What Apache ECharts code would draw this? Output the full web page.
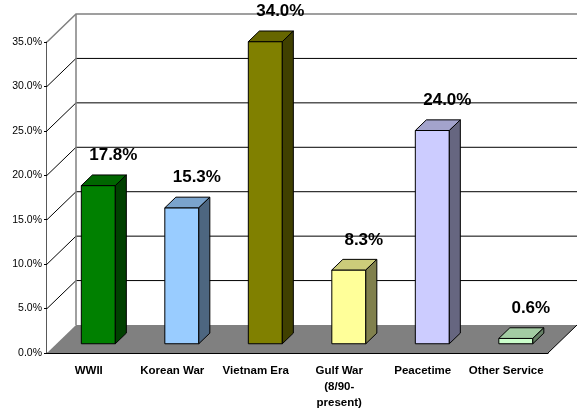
<!DOCTYPE html>
<html>
<head>
<meta charset="UTF-8">
<title>index.html</title>
<style type="text/css">
html, body { margin: 0; padding: 0; background: #fff; }
#main { width: 577px; height: 411px; }
</style>
<script type="text/javascript" src="https://cdn.jsdelivr.net/npm/echarts@6/dist/echarts.min.js"></script>
</head>
<body>
  <div id="main"></div>
<script>
  var categories = ['WWII', 'Korean War', 'Vietnam Era', 'Gulf War\n(8/90-\npresent)', 'Peacetime', 'Other Service'];
  var shares = [0.178, 0.153, 0.340, 0.083, 0.240, 0.006];
  var yTicks = [0, 0.05, 0.10, 0.15, 0.20, 0.25, 0.30, 0.35];

  // front / top / side colour of each bar
  var barColors = [
    ['#008000', '#006600', '#004000'],
    ['#99CCFF', '#7AA3CC', '#4D6680'],
    ['#808000', '#666600', '#404000'],
    ['#FFFF99', '#CCCC7A', '#80804D'],
    ['#CCCCFF', '#A3A3CC', '#666680'],
    ['#CCFFCC', '#A3CCA3', '#668066']
  ];

  // fake 3d depth, in pixels
  var DX = 29, DY = -28;
  var Z0 = 0.33, Z1 = 0.71;

  function renderFrame(params, api) {
    if (params.dataIndex !== 0) return;
    var cs = params.coordSys;
    var x0 = cs.x, x1 = cs.x + cs.width;
    var yb = api.coord([0, 0])[1];
    var yt = api.coord([0, yTicks[yTicks.length - 1]])[1];
    var kids = [];
    // back wall
    kids.push({ type: 'polygon', shape: { points: [[x0 + DX, yt + DY], [x1 + DX, yt + DY], [x1 + DX, yb + DY], [x0 + DX, yb + DY]] },
      style: { fill: '#fff', stroke: null } });
    // side wall
    kids.push({ type: 'polygon', shape: { points: [[x0, yt], [x0 + DX, yt + DY], [x0 + DX, yb + DY], [x0, yb]] },
      style: { fill: '#fff', stroke: null } });
    // grid lines on walls
    for (var i = 1; i < yTicks.length - 1; i++) {
      var y = api.coord([0, yTicks[i]])[1];
      kids.push({ type: 'line', shape: { x1: x0 + DX, y1: y + DY, x2: x1 + DX, y2: y + DY }, style: { stroke: '#000', lineWidth: 1 } });
      kids.push({ type: 'line', shape: { x1: x0, y1: y, x2: x0 + DX, y2: y + DY }, style: { stroke: '#000', lineWidth: 1 } });
    }
    // top edges and back-left edge
    kids.push({ type: 'polyline', shape: { points: [[x0, yt], [x0 + DX, yt + DY], [x1 + DX, yt + DY]] }, style: { stroke: '#808080', lineWidth: 1.5, fill: null } });
    kids.push({ type: 'line', shape: { x1: x0 + DX, y1: yt + DY, x2: x0 + DX, y2: yb + DY }, style: { stroke: '#808080', lineWidth: 1.5 } });
    // floor
    kids.push({ type: 'polygon', shape: { points: [[x0, yb], [x1, yb], [x1 + DX, yb + DY], [x0 + DX, yb + DY]] },
      style: { fill: '#808080', stroke: null } });
    kids.push({ type: 'line', shape: { x1: x1, y1: yb, x2: x1 + DX, y2: yb + DY }, style: { stroke: '#000', lineWidth: 1 } });
    return { type: 'group', children: kids };
  }

  function renderBar(params, api) {
    var idx = api.value(0);
    var v = api.value(1);
    var top = api.coord([idx, v]);
    var base = api.coord([idx, 0]);
    var w = api.size([1, 0])[0] * 0.407;
    var c = barColors[params.dataIndex];
    var l = top[0] - w / 2, r = top[0] + w / 2;
    var fx = Z0 * DX, fy = Z0 * DY, bx = Z1 * DX, by = Z1 * DY;
    var yT = top[1], yB = base[1];
    return {
      type: 'group',
      children: [
        { type: 'polygon', shape: { points: [[l + fx, yT + fy], [r + fx, yT + fy], [r + fx, yB + fy], [l + fx, yB + fy]] },
          style: { fill: c[0], stroke: '#000', lineWidth: 1 } },
        { type: 'polygon', shape: { points: [[l + fx, yT + fy], [r + fx, yT + fy], [r + bx, yT + by], [l + bx, yT + by]] },
          style: { fill: c[1], stroke: '#000', lineWidth: 1 } },
        { type: 'polygon', shape: { points: [[r + fx, yT + fy], [r + bx, yT + by], [r + bx, yB + by], [r + fx, yB + fy]] },
          style: { fill: c[2], stroke: '#000', lineWidth: 1 } },
        { type: 'text', style: { text: (v * 100).toFixed(1) + '%', x: top[0] + fx + 15, y: yT + fy - 30,
          textAlign: 'center', textVerticalAlign: 'middle', fill: '#000',
          font: 'bold 17px "Liberation Sans", Arial, sans-serif' } }
      ]
    };
  }

  var myChart = echarts.init(document.getElementById('main'));
  var option = {
    animation: false,
    grid: { left: 47, right: 29, top: 42, bottom: 58 },
    xAxis: {
      type: 'category',
      data: categories,
      axisLine: { lineStyle: { color: '#000', width: 1 } },
      axisTick: { length: 4, lineStyle: { color: '#000' } },
      axisLabel: {
        interval: 0, margin: 10, color: '#000', lineHeight: 16,
        fontFamily: '"Liberation Sans", Arial, sans-serif', fontSize: 11.5, fontWeight: 'bold'
      },
      splitLine: { show: false }
    },
    yAxis: {
      type: 'value',
      min: 0, max: 0.35, interval: 0.05,
      axisLine: { show: true, lineStyle: { color: '#222', width: 1.5 } },
      axisTick: { show: true, length: 3, lineStyle: { color: '#000' } },
      axisLabel: {
        margin: 5, color: '#000', fontSize: 10.5, fontFamily: '"Liberation Sans", Arial, sans-serif',
        formatter: function (v) { return (v * 100).toFixed(1) + '%'; }
      },
      splitLine: { show: false }
    },
    series: [
      { type: 'custom', name: 'frame', renderItem: renderFrame, data: [[0, 0]], silent: true, z: 1 },
      { type: 'custom', name: 'share', renderItem: renderBar, z: 3,
        data: shares.map(function (s, i) { return [i, s]; }) }
    ]
  };
  myChart.setOption(option);
</script>
</body>
</html>
